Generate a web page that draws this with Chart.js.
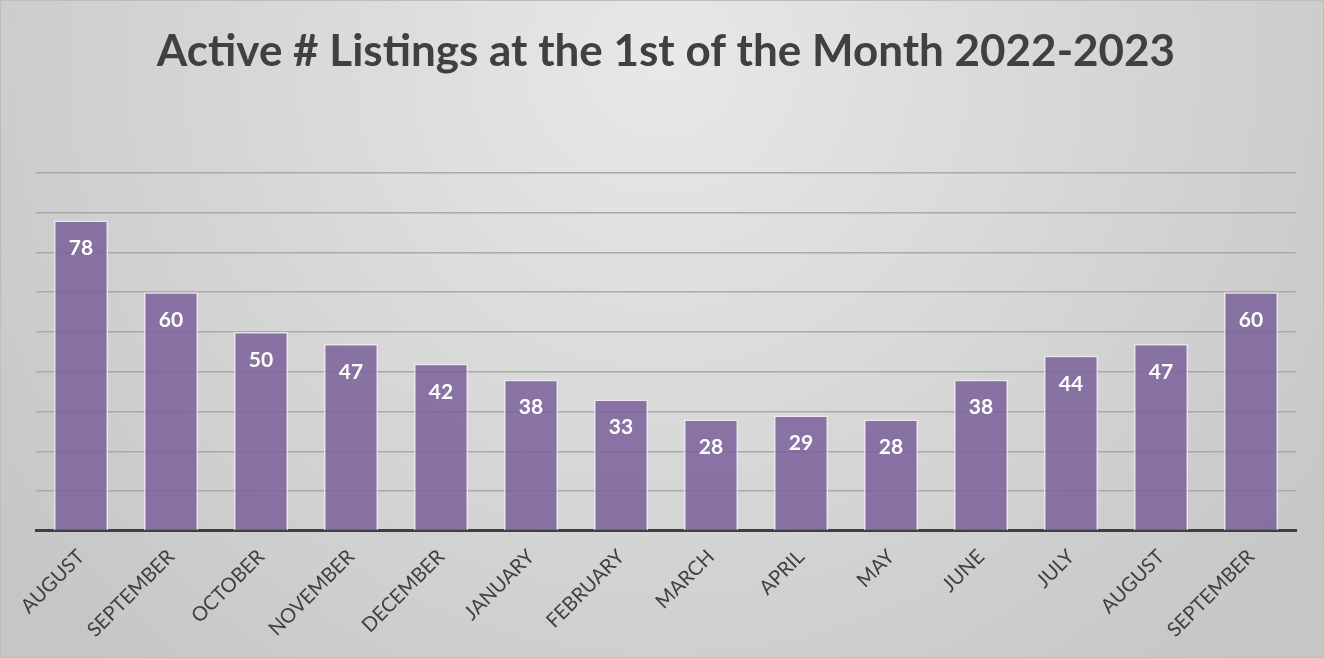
<!DOCTYPE html>
<html>
<head>
<meta charset="utf-8">
<script src="https://cdn.jsdelivr.net/npm/chart.js@4"></script>
<style>
  html, body { margin: 0; padding: 0; background: #d4d4d4; }
  #wrap { width: 1324px; height: 658px; position: relative; }
</style>
</head>
<body>
<div id="wrap"><canvas id="barChart"></canvas></div>
<script>
const months = [
  'AUGUST', 'SEPTEMBER', 'OCTOBER', 'NOVEMBER', 'DECEMBER', 'JANUARY', 'FEBRUARY',
  'MARCH', 'APRIL', 'MAY', 'JUNE', 'JULY', 'AUGUST', 'SEPTEMBER',
]
const listings = [78, 60, 50, 47, 42, 38, 33, 28, 29, 28, 38, 44, 47, 60]
const yMax = 90
const yStep = 10

// gray radial background like the spreadsheet chart area
const backdrop = {
  id: 'backdrop',
  beforeDraw(chart) {
    const { ctx, width, height } = chart
    ctx.save()
    const g = ctx.createRadialGradient(width / 2, 60, 0, width / 2, 60, 820)
    g.addColorStop(0, '#e8e8e8')
    g.addColorStop(1, '#c6c6c6')
    ctx.fillStyle = g
    ctx.fillRect(0, 0, width, height)
    ctx.strokeStyle = '#bdbdbd'
    ctx.lineWidth = 1
    ctx.strokeRect(0.5, 0.5, width - 1, height - 1)
    ctx.restore()
  },
}

// value labels inside the top of each bar
const barValues = {
  id: 'barValues',
  afterDatasetsDraw(chart) {
    const { ctx } = chart
    const meta = chart.getDatasetMeta(0)
    ctx.save()
    ctx.fillStyle = '#ffffff'
    ctx.font = 'bold 21px Lato, "Open Sans", sans-serif'
    ctx.textAlign = 'center'
    ctx.textBaseline = 'middle'
    meta.data.forEach((bar, i) => {
      ctx.fillText(String(listings[i]), bar.x, bar.y + 28)
    })
    ctx.restore()
  },
}

new Chart(document.getElementById('barChart'), {
  type: 'bar',
  data: {
    labels: months,
    datasets: [
      {
        label: 'Active listings',
        data: listings,
        backgroundColor: 'rgba(124, 98, 155, 0.86)',
        borderColor: 'rgba(240, 235, 245, 0.8)',
        borderWidth: 1.5,
        borderSkipped: 'bottom',
        categoryPercentage: 1,
        barPercentage: 0.6,
      },
    ],
  },
  options: {
    responsive: true,
    maintainAspectRatio: false,
    animation: false,
    layout: { padding: { left: 36, right: 28, top: 10, bottom: 10 } },
    plugins: {
      legend: { display: false },
      tooltip: { enabled: false },
      title: {
        display: true,
        text: 'Active # Listings at the 1st of the Month 2022-2023',
        color: '#404040',
        font: { family: 'Lato, "Open Sans", sans-serif', size: 44, weight: 'bold' },
        padding: { top: 15, bottom: 95 },
      },
    },
    scales: {
      x: {
        grid: { display: false },
        border: { display: true, color: '#3f3f3f', width: 3 },
        ticks: {
          color: '#404040',
          font: { family: 'Lato, "Open Sans", sans-serif', size: 20 },
          maxRotation: 45,
          minRotation: 45,
          padding: 6,
        },
      },
      y: {
        min: 0,
        max: yMax,
        ticks: { display: false, stepSize: yStep },
        border: { display: false },
        grid: { color: '#a9a9a9', lineWidth: 1.5, drawTicks: false },
      },
    },
  },
  plugins: [backdrop, barValues],
})
</script>
</body>
</html>
